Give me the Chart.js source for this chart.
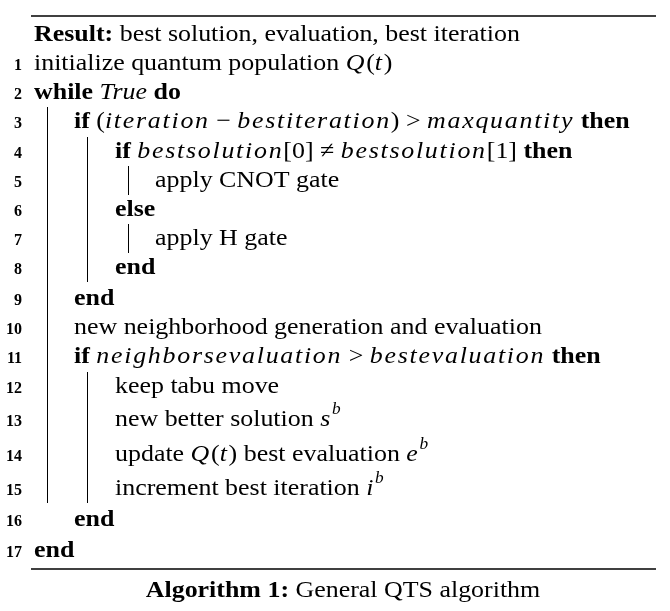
<!DOCTYPE html>
<html><head><meta charset="utf-8">
<script src="https://cdn.jsdelivr.net/npm/chart.js@4"></script>
<style>body{margin:0;background:#fff}#wrap{width:670px;height:611px}</style>
</head><body><div id="wrap"><canvas id="c"></canvas></div>
<script>
// each line: number label, indent level, y position, text segments [text, style]
const lineNums = ["", "1","2","3","4","5","6","7","8","9","10","11","12","13","14","15","16","17"];
const levels = [0,0,0,1,2,3,2,3,2,1,1,1,2,2,2,2,1,0];
const rowY = [35,64,93,122,152,181,210,239,268,299,328,357,387,420,455,489,520,551];
const lines = [
  [["Result: ","b"],["best solution, evaluation, best iteration","r"]],
  [["initialize quantum population ","r"],["Q","m"],["(","r"],["t","m"],[")","r"]],
  [["while ","b"],["True","i"],[" do","b"]],
  [["if ","b"],["(","r"],["iteration","m"],[" − ","r"],["bestiteration","m"],[") > ","r"],["maxquantity","m"],[" then","b"]],
  [["if ","b"],["bestsolution","m"],["[0] ≠ ","r"],["bestsolution","m"],["[1]","r"],[" then","b"]],
  [["apply CNOT gate","r"]],
  [["else","b"]],
  [["apply H gate","r"]],
  [["end","b"]],
  [["end","b"]],
  [["new neighborhood generation and evaluation","r"]],
  [["if ","b"],["neighborsevaluation","m"],[" > ","r"],["bestevaluation","m"],[" then","b"]],
  [["keep tabu move","r"]],
  [["new better solution ","r"],["s","m"],["b","sup"]],
  [["update ","r"],["Q","m"],["(","r"],["t","m"],[") best evaluation ","r"],["e","m"],["b","sup"]],
  [["increment best iteration ","r"],["i","m"],["b","sup"]],
  [["end","b"]],
  [["end","b"]]
];
// vertical block bars: [from row, to row, level]
const bars = [[3,15,1],[4,8,2],[5,5,3],[7,7,3],[12,15,2]];
const caption = [["Algorithm 1: ","b"],["General QTS algorithm","r"]];

const indentX = [34,74,115,155];
const SX = 1.08;
const F = '"Liberation Serif", "DejaVu Serif", serif';
function font(s){
  if(s==="b") return "bold 24px "+F;
  if(s==="i"||s==="m") return "italic 24px "+F;
  if(s==="sup") return "italic 16px "+F;
  return "24px "+F;
}
function segWidth(ctx,t,s){
  ctx.font=font(s);
  ctx.letterSpacing = s==="m" ? "1.6px" : "0px";
  return ctx.measureText(t).width;
}
function drawSegs(ctx,segs,x,y){
  ctx.save();
  ctx.translate(x,y);ctx.scale(SX,1);
  let cx=0;
  for(const [t,s] of segs){
    const w=segWidth(ctx,t,s);
    ctx.fillText(t,cx,s==="sup"?-10:0);
    cx+=w;
  }
  ctx.restore();
  ctx.letterSpacing="0px";
}
const algoPlugin = {
  id:"algo",
  afterDraw(chart){
    const ctx=chart.ctx, ys=chart.scales.y;
    ctx.save();
    ctx.fillStyle="#000";ctx.strokeStyle="#000";
    ctx.textBaseline="middle";
    const py=v=>ys.getPixelForValue(v);
    ctx.lineWidth=1.3;
    ctx.beginPath();ctx.moveTo(31,py(16));ctx.lineTo(656,py(16));ctx.stroke();
    ctx.beginPath();ctx.moveTo(31,py(569));ctx.lineTo(656,py(569));ctx.stroke();
    lines.forEach((segs,i)=>{
      const y=py(rowY[i]);
      if(lineNums[i]){ctx.font="bold 16px "+F;ctx.textAlign="right";ctx.fillText(lineNums[i],22,y+2);}
      ctx.textAlign="left";
      drawSegs(ctx,segs,indentX[levels[i]],y);
    });
    ctx.lineWidth=1;
    for(const [a,b,l] of bars){
      const x=indentX[l-1]+13.5;
      ctx.beginPath();ctx.moveTo(x,py(rowY[a]-15));ctx.lineTo(x,py(rowY[b]+14));ctx.stroke();
    }
    let w=0; for(const [t,s] of caption) w+=segWidth(ctx,t,s)*SX;
    drawSegs(ctx,caption,343-w/2,py(591));
    ctx.restore();
  }
};
new Chart(document.getElementById("c"),{
  type:"scatter",
  data:{datasets:[{data:[],pointRadius:0}]},
  options:{
    responsive:true,maintainAspectRatio:false,animation:false,
    layout:{padding:0},
    plugins:{legend:{display:false},tooltip:{enabled:false}},
    scales:{
      x:{display:false,min:0,max:670},
      y:{display:false,min:0,max:611,reverse:true}
    }
  },
  plugins:[algoPlugin]
});
</script></body></html>
